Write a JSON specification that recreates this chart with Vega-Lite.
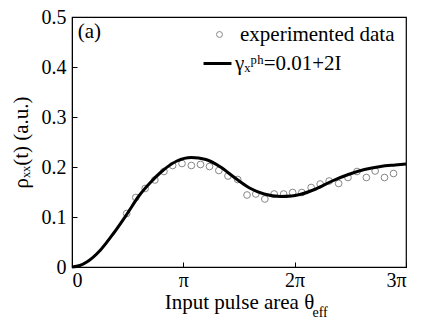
{
  "$schema": "https://vega.github.io/schema/vega-lite/v6.json",
  "width": 334,
  "height": 250,
  "autosize": "none",
  "padding": {"left": 72, "top": 17, "right": 15, "bottom": 53},
  "background": "white",
  "config": {
    "view": {"stroke": "black", "strokeWidth": 1.2},
    "axis": {
      "domainColor": "black",
      "tickColor": "black",
      "tickSize": -5,
      "grid": false,
      "labelFont": "Times New Roman",
      "labelFontSize": 20,
      "labelColor": "black",
      "titleFont": "Times New Roman",
      "titleFontSize": 21,
      "titleFontWeight": "normal",
      "titleColor": "black"
    },
    "legend": {
      "labelFont": "Times New Roman",
      "labelFontSize": 21,
      "labelColor": "black",
      "labelLimit": 400,
      "title": null
    }
  },
  "datasets": {
    "measured": [
      {"theta": 0.491, "rho": 0.107, "series": "experimented data"},
      {"theta": 0.573, "rho": 0.139, "series": "experimented data"},
      {"theta": 0.657, "rho": 0.157, "series": "experimented data"},
      {"theta": 0.744, "rho": 0.174, "series": "experimented data"},
      {"theta": 0.826, "rho": 0.191, "series": "experimented data"},
      {"theta": 0.904, "rho": 0.203, "series": "experimented data"},
      {"theta": 0.988, "rho": 0.207, "series": "experimented data"},
      {"theta": 1.072, "rho": 0.203, "series": "experimented data"},
      {"theta": 1.154, "rho": 0.205, "series": "experimented data"},
      {"theta": 1.235, "rho": 0.201, "series": "experimented data"},
      {"theta": 1.319, "rho": 0.193, "series": "experimented data"},
      {"theta": 1.401, "rho": 0.182, "series": "experimented data"},
      {"theta": 1.488, "rho": 0.175, "series": "experimented data"},
      {"theta": 1.572, "rho": 0.144, "series": "experimented data"},
      {"theta": 1.651, "rho": 0.146, "series": "experimented data"},
      {"theta": 1.732, "rho": 0.136, "series": "experimented data"},
      {"theta": 1.816, "rho": 0.146, "series": "experimented data"},
      {"theta": 1.901, "rho": 0.146, "series": "experimented data"},
      {"theta": 1.982, "rho": 0.149, "series": "experimented data"},
      {"theta": 2.064, "rho": 0.149, "series": "experimented data"},
      {"theta": 2.148, "rho": 0.159, "series": "experimented data"},
      {"theta": 2.229, "rho": 0.166, "series": "experimented data"},
      {"theta": 2.31, "rho": 0.172, "series": "experimented data"},
      {"theta": 2.395, "rho": 0.167, "series": "experimented data"},
      {"theta": 2.479, "rho": 0.179, "series": "experimented data"},
      {"theta": 2.56, "rho": 0.191, "series": "experimented data"},
      {"theta": 2.644, "rho": 0.179, "series": "experimented data"},
      {"theta": 2.723, "rho": 0.192, "series": "experimented data"},
      {"theta": 2.807, "rho": 0.179, "series": "experimented data"},
      {"theta": 2.888, "rho": 0.187, "series": "experimented data"}
    ],
    "model": [
      {"theta": 0.0, "rho": 0.0, "series": "γₓᵖʰ=0.01+2I"},
      {"theta": 0.07, "rho": 0.003, "series": "γₓᵖʰ=0.01+2I"},
      {"theta": 0.14, "rho": 0.011, "series": "γₓᵖʰ=0.01+2I"},
      {"theta": 0.256, "rho": 0.034, "series": "γₓᵖʰ=0.01+2I"},
      {"theta": 0.372, "rho": 0.067, "series": "γₓᵖʰ=0.01+2I"},
      {"theta": 0.488, "rho": 0.104, "series": "γₓᵖʰ=0.01+2I"},
      {"theta": 0.604, "rho": 0.143, "series": "γₓᵖʰ=0.01+2I"},
      {"theta": 0.7, "rho": 0.168, "series": "γₓᵖʰ=0.01+2I"},
      {"theta": 0.8, "rho": 0.19, "series": "γₓᵖʰ=0.01+2I"},
      {"theta": 0.942, "rho": 0.212, "series": "γₓᵖʰ=0.01+2I"},
      {"theta": 1.072, "rho": 0.219, "series": "γₓᵖʰ=0.01+2I"},
      {"theta": 1.203, "rho": 0.215, "series": "γₓᵖʰ=0.01+2I"},
      {"theta": 1.334, "rho": 0.2, "series": "γₓᵖʰ=0.01+2I"},
      {"theta": 1.465, "rho": 0.178, "series": "γₓᵖʰ=0.01+2I"},
      {"theta": 1.595, "rho": 0.158, "series": "γₓᵖʰ=0.01+2I"},
      {"theta": 1.726, "rho": 0.146, "series": "γₓᵖʰ=0.01+2I"},
      {"theta": 1.872, "rho": 0.141, "series": "γₓᵖʰ=0.01+2I"},
      {"theta": 1.973, "rho": 0.142, "series": "γₓᵖʰ=0.01+2I"},
      {"theta": 2.046, "rho": 0.145, "series": "γₓᵖʰ=0.01+2I"},
      {"theta": 2.19, "rho": 0.156, "series": "γₓᵖʰ=0.01+2I"},
      {"theta": 2.337, "rho": 0.172, "series": "γₓᵖʰ=0.01+2I"},
      {"theta": 2.482, "rho": 0.185, "series": "γₓᵖʰ=0.01+2I"},
      {"theta": 2.627, "rho": 0.195, "series": "γₓᵖʰ=0.01+2I"},
      {"theta": 2.772, "rho": 0.201, "series": "γₓᵖʰ=0.01+2I"},
      {"theta": 2.903, "rho": 0.204, "series": "γₓᵖʰ=0.01+2I"},
      {"theta": 3.0, "rho": 0.206, "series": "γₓᵖʰ=0.01+2I"}
    ],
    "notes": [
      {"label": "(a)"}
    ]
  },
  "layer": [
    {
      "data": {"name": "measured"},
      "mark": {"type": "point", "filled": false, "color": "#555555", "strokeWidth": 1, "size": 45, "clip": false},
      "encoding": {
        "x": {
          "field": "theta", "type": "quantitative",
          "scale": {"domain": [0, 3], "nice": false, "zero": true},
          "axis": {
            "values": [0, 1, 2, 3],
            "labelExpr": "datum.value == 0 ? '0' : (datum.value == 1 ? 'π' : datum.value + 'π')",
            "title": "Input pulse area θ",
            "labelPadding": 8,
            "titlePadding": 1
          }
        },
        "y": {
          "field": "rho", "type": "quantitative",
          "scale": {"domain": [0, 0.5], "nice": false},
          "axis": {
            "values": [0, 0.1, 0.2, 0.3, 0.4, 0.5],
            "labelExpr": "datum.value == 0 ? '0' : format(datum.value, '.1f')",
            "title": "ρₓₓ(t) (a.u.)",
            "labelPadding": 11,
            "titlePadding": 10
          }
        },
        "shape": {
          "field": "series", "type": "nominal",
          "scale": {"domain": ["experimented data"], "range": ["circle"]},
          "legend": {
            "orient": "none", "legendX": 137, "legendY": 7,
            "symbolStrokeColor": "#555555", "symbolFillColor": "transparent",
            "symbolSize": 35, "symbolStrokeWidth": 1, "labelOffset": 10
          }
        }
      }
    },
    {
      "data": {"name": "model"},
      "mark": {"type": "line", "strokeWidth": 3, "interpolate": "monotone"},
      "encoding": {
        "x": {"field": "theta", "type": "quantitative"},
        "y": {"field": "rho", "type": "quantitative"},
        "stroke": {
          "field": "series", "type": "nominal",
          "scale": {"domain": ["γₓᵖʰ=0.01+2I"], "range": ["black"]},
          "legend": {
            "orient": "none", "legendX": 130, "legendY": 31,
            "symbolType": "stroke", "symbolSize": 780, "symbolStrokeWidth": 3,
            "labelOffset": 2
          }
        }
      }
    },
    {
      "data": {"name": "notes"},
      "mark": {"type": "text", "align": "left", "baseline": "alphabetic", "fontSize": 21, "font": "Times New Roman", "color": "black"},
      "encoding": {
        "x": {"datum": 0.052},
        "y": {"datum": 0.458},
        "text": {"field": "label"}
      }
    },
    {
      "data": {"values": [{"label": "eff"}]},
      "mark": {"type": "text", "align": "left", "baseline": "alphabetic", "fontSize": 14, "font": "Times New Roman", "color": "black", "clip": false},
      "encoding": {
        "x": {"datum": 2.16},
        "y": {"datum": -0.1},
        "text": {"field": "label"}
      }
    }
  ]
}
